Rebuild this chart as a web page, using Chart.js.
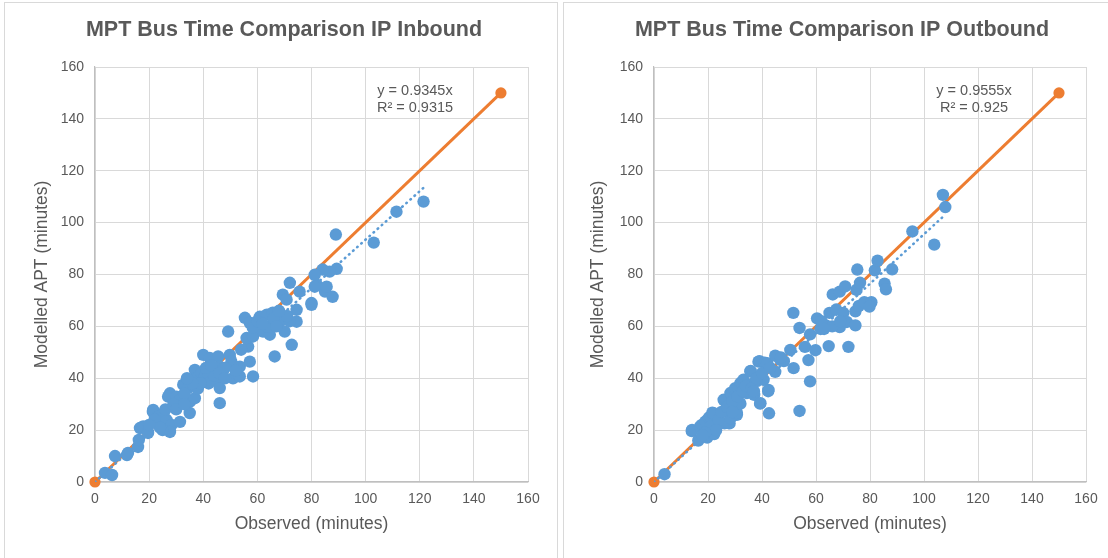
<!DOCTYPE html>
<html>
<head>
<meta charset="utf-8">
<script src="https://cdn.jsdelivr.net/npm/chart.js@4.4.0/dist/chart.umd.min.js"></script>
<style>
  html, body { margin: 0; padding: 0; background: #ffffff; }
  body { width: 1108px; height: 558px; position: relative; overflow: hidden; }
  .frame { position: absolute; border: 1px solid #d9d9d9; box-sizing: border-box; }
  canvas { position: absolute; top: 0; }
</style>
</head>
<body>
<div class="frame" style="left:4px; top:2px; width:554px; height:570px;"></div>
<div class="frame" style="left:563px; top:2px; width:560px; height:570px;"></div>
<canvas id="inbound" width="560" height="558" style="left:0px;"></canvas>
<canvas id="outbound" width="548" height="558" style="left:560px;"></canvas>
<script>
// ---- Data ----
const titles = ['MPT Bus Time Comparison IP Inbound', 'MPT Bus Time Comparison IP Outbound'];
const xAxisTitle = 'Observed (minutes)';
const yAxisTitle = 'Modelled APT (minutes)';
const axisMin = 0;
const axisMax = 160;
const tickStep = 20;
const parityLine = [0, 150];          // orange y = x reference line ends
const slopes = [0.9345, 0.9555];      // trendline slopes (y = a·x)
const rSquared = ['0.9315', '0.925'];

const inboundPoints = [
  [3.7,3.5],[6.3,2.7],[7.4,10],[11.8,10.4],[12.2,11.2],[15.9,13.5],[16.2,16.2],[16.6,20.8],
  [17.8,21.4],[19.6,18.9],[21.4,27],[21.5,27.8],[23.3,22.8],[23.4,25.2],[25.2,26.5],[26.5,23.9],
  [28.3,22],[27.7,19.3],[25,20],[22,24],[24,21],[26,28],[27.7,34.2],[27,32.9],[30.1,32.9],
  [31.4,31.7],[31.4,23.2],[35,26.6],[32.6,37.5],[34.4,36.2],[35.1,31],[36.9,32.3],[33,34],
  [29,30],[36.9,43.2],[37.5,40],[39.4,42],[40.6,40.7],[41.8,42],[43.7,39.4],[45.5,38.7],
  [46.1,36.2],[40,49],[42.4,47.8],[45.5,48.4],[46.1,44.5],[49.8,49],[50.4,46.4],[53.5,44.5],
  [46.1,30.4],[51,40],[53.5,40.7],[58.4,40.7],[57.2,46.4],[49.2,58],[56.6,52.2],[56,55.5],
  [58.4,56.1],[62.1,58],[64.6,56.8],[66.4,48.4],[55.4,63.3],[57.2,61.4],[58.3,59.5],[60.9,63.7],
  [63.5,64.5],[65.7,65.3],[63.8,59.8],[68.3,61.8],[70.1,58],[74.5,61.8],[72.7,52.9],[80,69],
  [72,76.8],[75.6,73.4],[82,76],[85,73.4],[69.4,72.2],[70.8,70.3],[74.5,66.4],[111.4,104.2],
  [103,92.3],[89,95.4],[89.3,82.2],[86.7,81.1],[84.1,81.9],[81.2,79.9],[87.8,71.4],[85.6,75.3],
  [81.2,75.3],[80,68.3],[121.4,108.1],[38,36],[42,38],[44,41],[48,44],[52,43],[39,38],[41,44],
  [43,45],[30,28],[33,30],[20,22],[60,62],[62,61],[66,63],[67,60],[72,62],[71,64],[68,66],
  [36,38],[34,40],[46,42],[48,40],[54,51]
];

const outboundPoints = [
  [3.9,3.0],[14,19.6],[14.1,20.1],[16.4,16],[17.1,21.4],[17.7,22],[19.7,17.1],[19,23.3],
  [20.3,24.7],[20.9,25.2],[21.6,26.7],[22.3,18.5],[20.9,21.3],[22,26.5],[26.1,22.6],[28,22.6],
  [27.6,22.7],[30.7,25.9],[28.3,24.6],[25.8,31.7],[26.1,31.5],[28.3,34.3],[28.7,33.6],[30,35],
  [30.1,36.2],[31.3,36.4],[32,38.1],[32.6,37.7],[33.1,39.4],[30.7,26.7],[32,30.2],[34.4,34.3],
  [36.9,38.1],[40.6,39.4],[35.7,42.6],[35.8,42.8],[37.1,33.6],[38.7,46.4],[39.1,46.6],[41,46],
  [41.9,45.8],[39.3,30.2],[39.4,30.4],[42.3,35],[42.4,35.5],[42.6,26.5],[44.9,42.5],[44.9,48.7],
  [46.8,47.1],[48.1,46.6],[50.5,50.9],[51.7,43.9],[51.6,65.2],[53.9,59.4],[53.9,27.4],
  [55.9,52.1],[57.8,56.9],[57.2,47],[57.8,38.8],[59.8,50.8],[60.4,63.1],[61.7,59],[63.6,60.4],
  [64.7,52.4],[65,65.2],[66.2,72.3],[67.5,66.5],[68.8,59.7],[70.1,65.2],[71.4,61.7],[74.6,60.4],
  [68.8,73.4],[70.8,75.4],[72,52.1],[75.3,81.9],[75,74.1],[76.3,76.8],[74.6,65.8],[75.9,67.9],
  [77.9,69.3],[80.5,69.3],[79.8,67.6],[81.8,81.6],[82.8,85.3],[88.2,82],[85.4,76.5],[85.9,74.3],
  [95.7,96.6],[103.8,91.5],[107,110.7],[107.9,106],[24,24],[25,27],[27,29],[29,31],[31,33],
  [33,35],[34,37],[36,36],[38,40],[40,42],[37,35],[29,27],[23,20],[19,19],[18,18],[43,44],
  [47,48],[62,62],[66,60],[69,62],[63,59]
];

// ---- Styling ----
const FONT = '"Liberation Sans", Arial, sans-serif';
const TEXT = '#595959';
const BLUE = '#5B9BD5';
const ORANGE = '#ED7D31';

function makeChart(canvasId, idx, points, geo) {
  const maxX = Math.max(...points.map(p => p[0]));
  const trend = [{x: 0, y: 0}, {x: maxX, y: slopes[idx] * maxX}];
  const overlay = {
    id: 'overlayText',
    afterDraw(chart) {
      const ctx = chart.ctx;
      ctx.save();
      ctx.fillStyle = TEXT;
      ctx.textAlign = 'center';
      ctx.textBaseline = 'middle';
      ctx.font = 'bold 21.5px ' + FONT;
      ctx.fillText(titles[idx], geo.titleX, 30);
      ctx.font = '14.5px ' + FONT;
      ctx.fillText('y = ' + slopes[idx] + 'x', geo.eqX, 91);
      ctx.fillText('R\u00B2 = ' + rSquared[idx], geo.eqX, 108);
      ctx.restore();
    }
  };
  return new Chart(document.getElementById(canvasId), {
    type: 'scatter',
    data: {
      datasets: [
        {
          label: 'Points',
          data: points.map(p => ({x: p[0], y: p[1]})),
          pointRadius: 6.2,
          pointHoverRadius: 6.2,
          backgroundColor: BLUE,
          borderWidth: 0
        },
        {
          label: 'Trend',
          type: 'line',
          data: trend,
          borderColor: BLUE,
          borderWidth: 2.6,
          borderDash: [0.5, 5],
          borderCapStyle: 'round',
          pointRadius: 0,
          fill: false
        },
        {
          label: 'Parity',
          type: 'line',
          data: parityLine.map(v => ({x: v, y: v})),
          borderColor: ORANGE,
          borderWidth: 3,
          pointRadius: 5.6,
          pointBackgroundColor: ORANGE,
          pointBorderWidth: 0,
          clip: false,
          fill: false
        }
      ]
    },
    options: {
      responsive: false,
      animation: false,
      devicePixelRatio: 1,
      layout: { padding: { left: 0, right: geo.padRight, top: 67, bottom: 0 } },
      plugins: { legend: { display: false }, tooltip: { enabled: false }, title: { display: false } },
      scales: {
        x: {
          type: 'linear', min: axisMin, max: axisMax,
          ticks: { stepSize: tickStep, color: TEXT, font: { family: FONT, size: 14 }, padding: 9, maxRotation: 0 },
          grid: { color: '#d9d9d9', lineWidth: 1, drawTicks: false },
          border: { color: '#bfbfbf', width: 1.2 },
          title: { display: true, text: xAxisTitle, color: TEXT, font: { family: FONT, size: 17.5 }, padding: { top: 0, bottom: 23.5 } },
          afterFit(scale) { scale.height = 76; }
        },
        y: {
          type: 'linear', min: axisMin, max: axisMax,
          ticks: { stepSize: tickStep, color: TEXT, font: { family: FONT, size: 14 }, padding: 11 },
          grid: { color: '#d9d9d9', lineWidth: 1, drawTicks: false },
          border: { color: '#bfbfbf', width: 1.2 },
          title: { display: true, text: yAxisTitle, color: TEXT, font: { family: FONT, size: 17.5 }, padding: { top: geo.yTitlePad, bottom: 0 } },
          afterFit(scale) { scale.width = geo.yWidth; }
        }
      }
    },
    plugins: [overlay]
  });
}

makeChart('inbound', 0, inboundPoints, { padRight: 32, yWidth: 95, yTitlePad: 31.5, titleX: 284, eqX: 415 });
makeChart('outbound', 1, outboundPoints, { padRight: 22, yWidth: 94, yTitlePad: 28, titleX: 282, eqX: 414 });
</script>
</body>
</html>
